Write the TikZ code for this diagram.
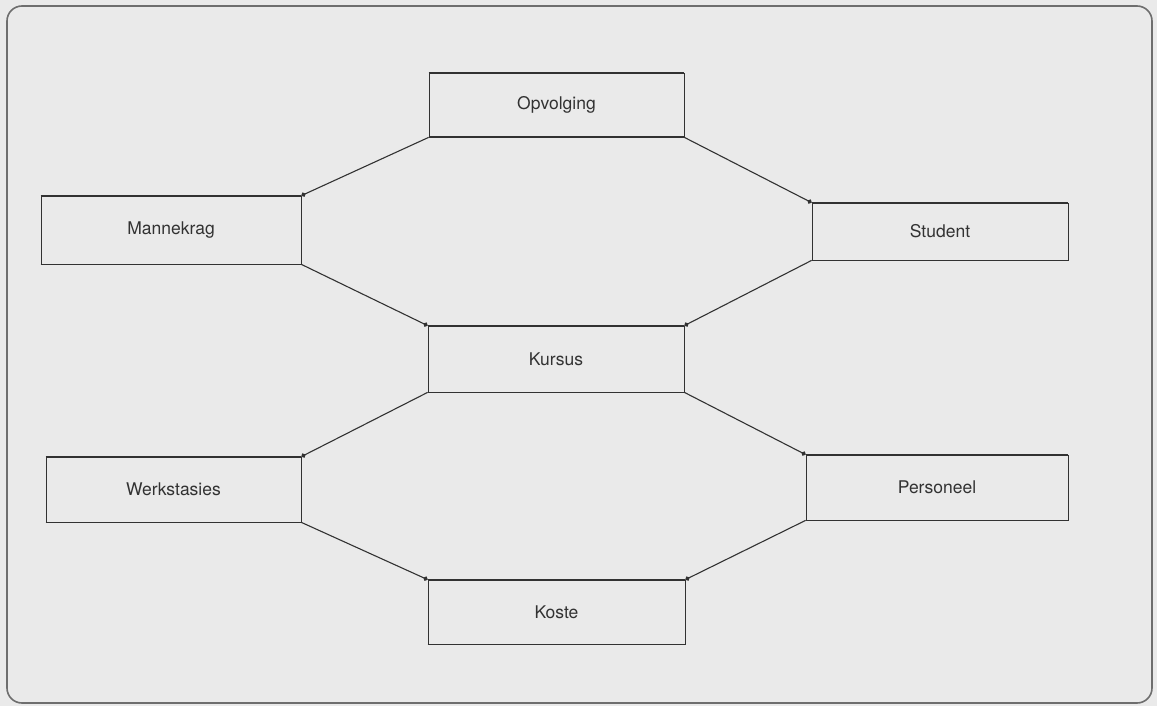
\documentclass[tikz,border=0pt]{standalone}
\usepackage{fontspec}
\setmainfont{TeX Gyre Heros}
\usetikzlibrary{arrows.meta}
\definecolor{bg}{RGB}{234,234,234}
\definecolor{ink}{RGB}{50,50,50}
\definecolor{frame}{RGB}{110,110,110}
\begin{document}
\begin{tikzpicture}[x=1pt,y=-1pt,
  entity/.style={draw=ink, line width=0.8pt, fill=bg, inner sep=0pt,
    font=\fontsize{17.5}{20}\selectfont, text=ink},
  edge/.style={draw=ink, line width=1.1pt, -{Circle[length=4.5pt]}},
  hline/.style={draw=ink, line width=1.8pt}]
\fill[bg] (0,0) rectangle (1157,706);
\useasboundingbox (0,0) rectangle (1157,706);
\draw[frame, line width=1.6pt, rounded corners=15pt] (7,6) rectangle (1152,703);

\node[entity, minimum width=255pt, minimum height=64pt] (opv) at (556.5,105) {Opvolging};
\node[entity, minimum width=260pt, minimum height=68pt] (man) at (171,230) {Mannekrag};
\node[entity, minimum width=256pt, minimum height=57pt] (stu) at (940,231.5) {Student};
\node[entity, minimum width=256pt, minimum height=66pt] (kur) at (556,359) {Kursus};
\node[entity, minimum width=255pt, minimum height=65pt] (wer) at (173.5,489.5) {Werkstasies};
\node[entity, minimum width=262pt, minimum height=65pt] (per) at (937,487.5) {Personeel};
\node[entity, minimum width=257pt, minimum height=64pt] (kos) at (556.5,612) {Koste};

\foreach \n in {opv,man,stu,kur,wer,per,kos}{
  \draw[hline] (\n.north west) -- (\n.north east);
  \draw[hline] (\n.south west) -- (\n.south east);
}

\draw[edge] (opv.south west) -- (man.north east);
\draw[edge] (opv.south east) -- (stu.north west);
\draw[edge] (man.south east) -- (kur.north west);
\draw[edge] (stu.south west) -- (kur.north east);
\draw[edge] (kur.south west) -- (wer.north east);
\draw[edge] (kur.south east) -- (per.north west);
\draw[edge] (wer.south east) -- (kos.north west);
\draw[edge] (per.south west) -- (kos.north east);
\end{tikzpicture}
\end{document}
